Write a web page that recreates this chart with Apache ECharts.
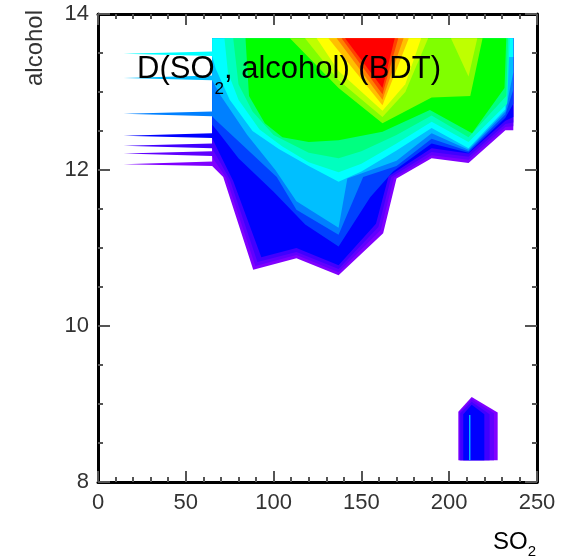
<!DOCTYPE html>
<html><head><meta charset="utf-8">
<script src="https://cdn.jsdelivr.net/npm/echarts@6/dist/echarts.min.js"></script>
<style>html,body{margin:0;padding:0;background:#fff}#c{width:575px;height:557px}</style>
</head><body><div id="c"></div>
<script>
// ---- data (SO2, alcohol) ----
const T = 13.69; // top of the contoured region
const levelColors = ['#8000ff','#6000ff','#4000ff','#0000ff','#0040ff','#0080ff','#00bfff','#00ffff',
  '#00ffbf','#00ff80','#00ff00','#80ff00','#bfff00','#ffff00','#ffbf00','#ff8000','#ff4000','#ff0000'];
const xTickValues = [0, 50, 100, 150, 200, 250];
const yTickValues = [8, 10, 12, 14];

const level1 = [[65,T],[236.5,T],[236.5,12.51],[232,12.51],[211,12.09],[190,12.15],[170,11.89],[162.4,11.19],[137,10.65],[113,10.87],[88.4,10.72],[71.3,11.91],[65,12.05],[14.5,12.075],[65,12.11]];
const level2 = [[65,T],[236.5,T],[236.5,12.56],[232,12.55],[211,12.13],[190,12.19],[168.5,11.9],[161,11.23],[137,10.69],[113,10.91],[89.6,10.77],[73,11.9],[66,12.13],[65,12.18],[14.5,12.21],[65,12.24]];
const level3 = [[65,T],[236.5,T],[236.5,12.61],[232,12.59],[211,12.17],[190,12.23],[167,11.91],[159.7,11.27],[137,10.73],[113,10.95],[90.8,10.82],[75,11.88],[67,12.2],[65,12.28],[14.5,12.31],[65,12.34]];
const level4 = [[65,T],[236.5,T],[236.5,12.68],[232,12.63],[211,12.21],[190,12.28],[165.5,11.92],[158.3,11.31],[137,10.78],[113,11.0],[93,10.88],[77,11.86],[68,12.27],[65,12.41],[14.5,12.44],[65,12.47]];
const level5 = [[65,T],[236.5,T],[236.5,12.85],[232,12.67],[211,12.22],[190,12.34],[168,11.98],[155,11.65],[137,11.02],[118,11.3],[100,11.72],[80,12.15],[68,12.5],[65,12.58]];
const level6 = [[65,T],[236.5,T],[236.5,13.03],[232,12.71],[211,12.24],[190,12.4],[170,12.05],[151,11.91],[137,11.17],[113,11.49],[101.8,11.91],[80,12.37],[67,12.64],[65,12.69],[14.5,12.72],[65,12.75]];
const level7 = [[65,T],[236.5,T],[236.5,13.25],[232,12.75],[211,12.26],[190,12.47],[170,12.12],[142,11.89],[137,11.26],[113,11.6],[101,12.0],[85,12.45],[70,12.95],[65,13.15],[14.5,13.18],[65,13.21]];
const level8 = [[65,T],[236.5,T],[236.5,13.45],[233,13.45],[232,12.78],[211,12.28],[190,12.54],[170,12.25],[150,11.98],[137,11.85],[120,12.05],[103,12.27],[88,12.5],[75,12.9],[67,13.3],[65,13.46],[14.5,13.49],[65,13.52]];
const level9 = [[72,T],[234.5,T],[233,12.85],[211,12.36],[190,12.62],[170,12.34],[150,12.08],[137,11.97],[120,12.1],[105,12.3],[92,12.52],[80,12.9],[74,13.25]];
const level10 = [[77,T],[233.5,T],[232.5,12.95],[211,12.42],[190,12.7],[170,12.45],[150,12.24],[137,12.15],[120,12.22],[100,12.45],[88,12.75],[80,13.1]];
const level11 = [[84,T],[232.5,T],[231.5,13.05],[213,12.47],[189,12.77],[162,12.49],[137,12.38],[120,12.36],[105,12.42],[95,12.6],[86,12.95]];
const level12 = [[109.3,T],[219,T],[212,12.95],[190,12.93],[162,12.6],[137,13.05]];
const level13 = [[117.9,T],[188,T],[175,13.0],[162,12.68],[137,13.15]];
const level13b = [[201,T],[216,T],[211,13.2]];
const level14 = [[124.5,T],[184,T],[175,13.1],[162,12.76],[137,13.27]];
const level15 = [[131.2,T],[177,T],[162,12.83]];
const level16 = [[135.9,T],[174,T],[162,12.9]];
const level17 = [[138.7,T],[171,T],[162,12.97]];
const level18 = [[140.7,T],[169,T],[162,13.05]];
// small island near (215, 8.6)
const island1 = [[205.2,8.28],[205.2,8.9],[212.8,9.09],[227.6,8.89],[227.6,8.28]];
const island2 = [[205.8,8.28],[205.8,8.89],[212.8,9.06],[225.5,8.88],[225.5,8.28]];
const island3 = [[206.3,8.28],[206.3,8.88],[212.8,9.03],[223,8.87],[223,8.28]];
const island4 = [[208,8.28],[208,8.87],[212.8,8.99],[220,8.87],[220,8.28]];
const island7 = [[211.3,8.28],[211.3,8.86],[212.1,8.86],[212.1,8.28]];

// [level index, polygon] in paint order
const polygons = [
  [0, level1],[1, level2],[2, level3],[3, level4],[4, level5],[5, level6],[6, level7],[7, level8],
  [8, level9],[9, level10],[10, level11],[11, level12],[12, level13],[12, level13b],[13, level14],
  [14, level15],[15, level16],[16, level17],[17, level18],
  [0, island1],[1, island2],[2, island3],[3, island4],[6, island7]
];

const chart = echarts.init(document.getElementById('c'), null, {renderer:'canvas'});
const FONT = 'Liberation Sans, Arial, sans-serif';
const tickStyle = {color:'#555', width:2};
function xAxisDef(pos, showLabel){
  return {type:'value', position:pos, min:0, max:250, interval:50,
    axisLine:{show:true, onZero:false, lineStyle:{color:'#000', width:3}},
    axisTick:{show:true, inside:true, length:11, lineStyle:tickStyle},
    minorTick:{show:true, splitNumber:5, length:5, lineStyle:tickStyle},
    splitLine:{show:false}, minorSplitLine:{show:false},
    axisLabel:{show:showLabel, fontSize:22, color:'#333', margin:10, fontFamily:FONT}};
}
function yAxisDef(pos, showLabel){
  return {type:'value', position:pos, min:8, max:14, interval:2,
    axisLine:{show:true, onZero:false, lineStyle:{color:'#000', width:3}},
    axisTick:{show:true, inside:true, length:12, lineStyle:tickStyle},
    minorTick:{show:true, splitNumber:4, length:5, lineStyle:tickStyle},
    splitLine:{show:false}, minorSplitLine:{show:false},
    axisLabel:{show:showLabel, fontSize:22, color:'#333', margin:9, fontFamily:FONT}};
}

chart.setOption({
  animation:false,
  backgroundColor:'#fff',
  grid:{left:98, right:38, top:14, bottom:75},
  title:{
    text:'{a|D(SO}{s|2}{a|, alcohol) (BDT)}',
    left:137, top:52, padding:0,
    textStyle:{fontWeight:'normal', rich:{
      a:{fontSize:31, fontWeight:'normal', fontFamily:FONT, color:'#000', lineHeight:34},
      s:{fontSize:17, fontWeight:'normal', fontFamily:FONT, color:'#000', lineHeight:20, padding:[40,0,0,0]}
    }}
  },
  xAxis:[xAxisDef('bottom', true), xAxisDef('top', false)],
  yAxis:[yAxisDef('left', true), yAxisDef('right', false)],
  graphic:[
    {type:'text', x:35, y:48, rotation:Math.PI/2,
      style:{text:'alcohol', font:'24px ' + FONT, fill:'#333', align:'center', verticalAlign:'middle'}},
    {type:'text', left:493, top:526,
      style:{text:'{a|SO}{s|2}', rich:{a:{fontSize:24, fontFamily:FONT, color:'#333', lineHeight:26},
        s:{fontSize:15, fontFamily:FONT, color:'#333', lineHeight:16, padding:[18,0,0,0]}}}}
  ],
  series:[{
    type:'custom', coordinateSystem:'cartesian2d', xAxisIndex:0, yAxisIndex:0, clip:true,
    data: polygons.map((p, i) => [p[1][0][0], p[1][0][1], i]),
    encode:{x:0, y:1},
    renderItem:function(params, api){
      const poly = polygons[api.value(2)];
      const pts = poly[1].map(v => api.coord(v));
      return {type:'polygon', shape:{points:pts}, style:{fill:levelColors[poly[0]], stroke:null}};
    },
    z:1
  }]
});
</script></body></html>
